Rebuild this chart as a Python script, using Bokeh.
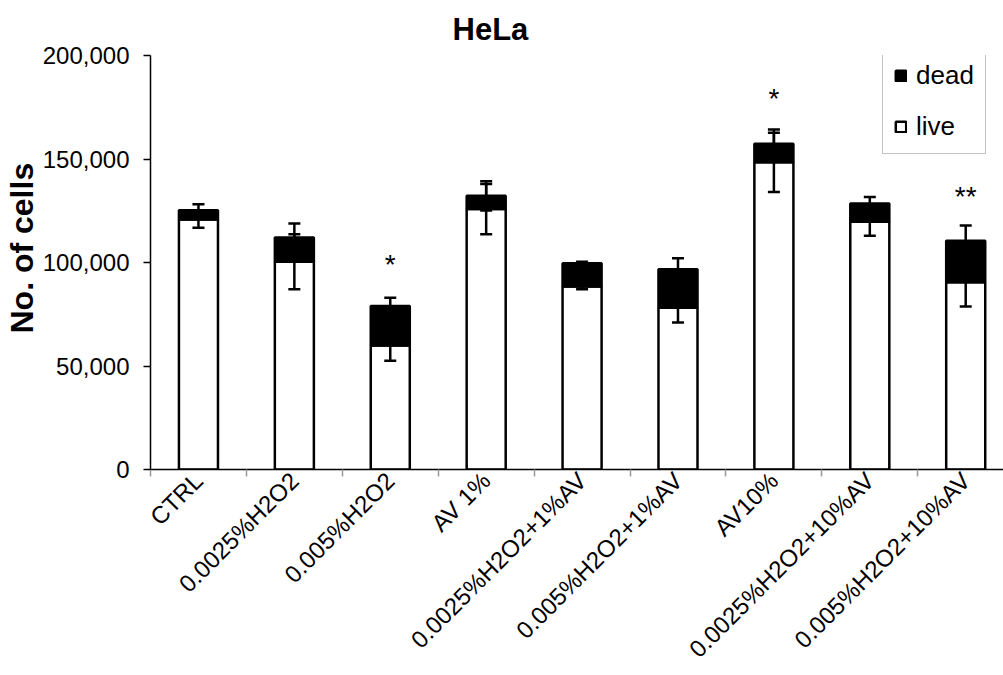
from bokeh.plotting import figure
from bokeh.models import (ColumnDataSource, Range1d, FixedTicker, NumeralTickFormatter,
                          Whisker, TeeHead, Title, Legend, LegendItem)
from bokeh.core.properties import value
from bokeh.embed import file_html
from bokeh.resources import INLINE

categories = ["CTRL", "0.0025%H2O2", "0.005%H2O2", "AV 1%", "0.0025%H2O2+1%AV",
              "0.005%H2O2+1%AV", "AV10%", "0.0025%H2O2+10%AV", "0.005%H2O2+10%AV"]
live = [120800, 100400, 59900, 125800, 88400, 78200, 148400, 119700, 90400]
dead = [4500, 11700, 19100, 6400, 11200, 18500, 9000, 8800, 20100]
live_err = [4000, 13300, 7400, 12100, 1300, 7200, 14300, 6800, 11700]
dead_err = [2900, 6800, 4000, 7100, 800, 5300, 6800, 3200, 7400]
star_idx = [2, 6, 8]
star_text = ["*", "*", "**"]
star_y = [99000, 179000, 132000]

FONT = "Liberation Sans"
xs = list(range(len(categories)))
total = [l + d for l, d in zip(live, dead)]

src = ColumnDataSource(dict(
    x=xs, live=live, total=total,
    live_lo=[l - e for l, e in zip(live, live_err)],
    live_hi=[l + e for l, e in zip(live, live_err)],
    tot_lo=[t - e for t, e in zip(total, dead_err)],
    tot_hi=[t + e for t, e in zip(total, dead_err)],
))

p = figure(width=1003, height=675, output_backend="svg", toolbar_location=None,
           x_range=Range1d(-0.5, 8.394), y_range=Range1d(0, 200000),
           min_border_left=150, min_border_right=0, min_border_top=55,
           min_border_bottom=205)
p.title.text = "HeLa"
p.title.align = "left"
p.title.offset = 302
p.title.standoff = 17
p.title.text_font = FONT
p.title.text_font_size = "31px"
p.title.text_font_style = "bold"
p.title.text_color = "black"

p.outline_line_color = None
p.xgrid.visible = False
p.ygrid.visible = False
p.background_fill_color = "white"
p.border_fill_color = "white"

bw = 0.407
r_live = p.vbar(x="x", bottom=0, top="live", width=bw, source=src,
                fill_color="white", line_color="black", line_width=2.5)
r_dead = p.vbar(x="x", bottom="live", top="total", width=bw, source=src,
                fill_color="black", line_color="black", line_width=2.5)

for lo, hi in (("live_lo", "live_hi"), ("tot_lo", "tot_hi")):
    w = Whisker(base="x", lower=lo, upper=hi, source=src, line_color="black",
                line_width=2.5, level="overlay",
                upper_head=TeeHead(size=12, line_width=2.5, line_color="black"),
                lower_head=TeeHead(size=12, line_width=2.5, line_color="black"))
    p.add_layout(w)

p.text(x=star_idx, y=star_y, text=star_text,
       text_font=value(FONT), text_font_size="28px", text_align="center",
       text_baseline="middle", text_color="black")

# x axis
xa = p.xaxis[0]
xa.ticker = FixedTicker(ticks=xs, minor_ticks=[i - 0.5 for i in range(len(categories) + 1)])
xa.major_label_overrides = {i: c for i, c in enumerate(categories)}
xa.major_label_orientation = 0.785398
xa.major_label_text_font = FONT
xa.major_label_text_font_size = "24px"
xa.major_label_text_color = "black"
xa.major_tick_line_color = None
xa.major_tick_out = 0
xa.major_tick_in = 0
xa.major_label_standoff = 0
xa.minor_tick_line_color = "#999999"
xa.minor_tick_line_width = 1.5
xa.minor_tick_out = 7
xa.minor_tick_in = 0
xa.axis_line_color = "black"
xa.axis_line_width = 1.5

# y axis
ya = p.yaxis[0]
ya.ticker = FixedTicker(ticks=[0, 50000, 100000, 150000, 200000])
ya.formatter = NumeralTickFormatter(format="0,0")
ya.major_label_text_font = FONT
ya.major_label_text_font_size = "24px"
ya.major_label_text_color = "black"
ya.major_tick_line_color = "black"
ya.major_tick_line_width = 1.5
ya.major_tick_out = 7
ya.major_tick_in = 0
ya.minor_tick_line_color = None
ya.major_label_standoff = 14
ya.axis_line_color = "black"
ya.axis_line_width = 1.5

ylab = Title(text="No. of cells", align="left", offset=136, standoff=0, text_font=FONT,
             text_font_size="32px", text_font_style="bold", text_color="black")
p.add_layout(ylab, "left")

legend = Legend(items=[LegendItem(label="dead", renderers=[r_dead]),
                       LegendItem(label="live", renderers=[r_live])],
                location=(732, 315))
legend.label_text_font = FONT
legend.label_text_font_size = "26px"
legend.label_text_color = "black"
legend.glyph_width = 13
legend.glyph_height = 13
legend.label_standoff = 9
legend.spacing = 20
legend.padding = 11
legend.margin = 0
legend.border_line_color = "#888888"
legend.border_line_width = 1.5
legend.background_fill_alpha = 1.0
p.add_layout(legend, "center")

open("out.html", "w").write(file_html(p, INLINE))
